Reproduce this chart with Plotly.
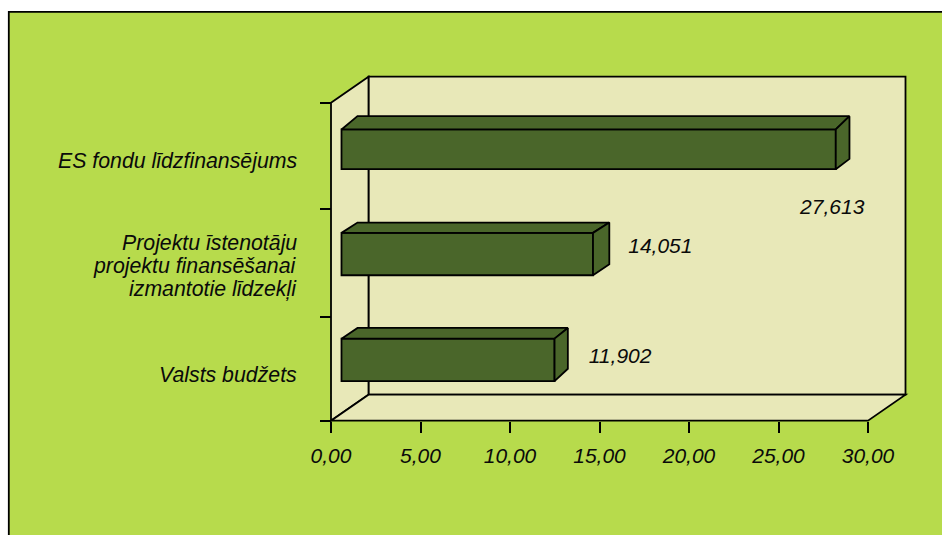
import plotly.graph_objects as go

# ---- data (bottom to top) ----
categories = ["Valsts budžets",
              "Projektu īstenotāju<br>projektu finansēšanai<br>izmantotie līdzekļi",
              "ES fondu līdzfinansējums"]
values = [11.902, 14.051, 27.613]
x_ticks = [0, 5, 10, 15, 20, 25, 30]
y_boundaries = [0, 0.975, 2, 3]

# ---- scale of the drawing (pixels) ----
W, H = 942, 535
X0, PX_X = 331.0, 17.9      # pixel of value 0, pixels per unit
Y0, PX_Y = 420.7, 106.0     # pixel of boundary 0, pixels per category
ux = lambda p: p / PX_X
uy = lambda p: p / PX_Y
xr = [-X0 / PX_X, (W - X0) / PX_X]
yr = [(Y0 - H) / PX_Y, Y0 / PX_Y]

# ---- pseudo-3D style parameters ----
wall_dx, wall_dy = ux(37.5), uy(26.0)
bar_shift = ux(10.5)
bar_centers = [0.574, 1.572, 2.56]
bar_widths = [0.40, 0.40, 0.375]
left_dx = ux(16)
top_dy = [uy(10.7), uy(10.3), uy(13.3)]
bottom_dy = [uy(12.3), uy(11.0), uy(10.3)]
right_dx = [ux(13.3), ux(16.3), ux(13.7)]
label_x = [16.15, 18.4, 28.0]
label_y = [0.59, 1.63, 2.0]

GREEN, WALL, BAR, INK = "#B7DB4C", "#E8E8B8", "#4A662A", "#000000"
TEXT = "#0A0A0A"
FONT = "Liberation Sans"
LW = 1.8


def poly(points):
    return "M " + " L ".join(f"{x},{y}" for x, y in points) + " Z"


fig = go.Figure()

# background
shapes = [dict(type="rect", xref="paper", yref="paper", x0=8.8 / W, x1=1.02,
               y0=-0.02, y1=1 - 11.8 / H, fillcolor=GREEN,
               line=dict(color=INK, width=1.8), layer="below")]

# walls of the 3D box
xa, xb, ya, yb = x_ticks[0], x_ticks[-1], y_boundaries[0], y_boundaries[-1]
for pts in (
    [(xa + wall_dx, ya + wall_dy), (xb + wall_dx, ya + wall_dy), (xb + wall_dx, yb + wall_dy), (xa + wall_dx, yb + wall_dy)],
    [(xa, ya), (xa + wall_dx, ya + wall_dy), (xa + wall_dx, yb + wall_dy), (xa, yb)],
    [(xa, ya), (xb, ya), (xb + wall_dx, ya + wall_dy), (xa + wall_dx, ya + wall_dy)],
):
    shapes.append(dict(type="path", xref="x", yref="y", path=poly(pts), fillcolor=WALL,
                       line=dict(color=INK, width=LW), layer="below"))

# front faces of the bars
fig.add_trace(go.Bar(orientation="h", y=bar_centers, x=values, base=[bar_shift] * 3, width=bar_widths,
                     marker=dict(color=BAR, line=dict(color=INK, width=LW)), showlegend=False, hoverinfo="skip"))

# top and side faces of the bars
for i, v in enumerate(values):
    x0, x1 = bar_shift, bar_shift + v
    yt, yb_ = bar_centers[i] + bar_widths[i] / 2, bar_centers[i] - bar_widths[i] / 2
    top = [(x0, yt), (x0 + left_dx, yt + top_dy[i]), (x1 + right_dx[i], yt + top_dy[i]), (x1, yt), (x0, yt)]
    side = [(x1, yt), (x1 + right_dx[i], yt + top_dy[i]), (x1 + right_dx[i], yb_ + bottom_dy[i]), (x1, yb_), (x1, yt)]
    for pts in (top, side):
        fig.add_trace(go.Scatter(x=[p[0] for p in pts], y=[p[1] for p in pts], mode="lines", fill="toself",
                                 fillcolor=BAR, line=dict(color=INK, width=LW), showlegend=False, hoverinfo="skip"))

# value labels
fig.add_trace(go.Scatter(x=label_x, y=label_y, mode="text", text=[f"{v:.3f}".replace(".", ",") for v in values],
                         textposition="middle center", textfont=dict(family=FONT, size=21, color=TEXT, style="italic"),
                         showlegend=False, hoverinfo="skip"))

# category labels (line pitch narrower than the default)
annotations = []
label_centers = [uy(Y0 - 375), uy(Y0 - 266), uy(Y0 - 161)]
for c, yc in zip(categories, label_centers):
    lines = c.split("<br>")
    for j, line in enumerate(lines):
        annotations.append(dict(x=ux(298.5 - X0), y=yc + uy(23) * ((len(lines) - 1) / 2 - j), xref="x", yref="y",
                                text=line, showarrow=False, xanchor="right", yanchor="middle",
                                font=dict(family=FONT, size=21.3, color=TEXT, style="italic")))

fig.update_layout(
    width=W, height=H, autosize=False, margin=dict(l=0, r=0, t=0, b=0, pad=0),
    paper_bgcolor="#FFFFFF", plot_bgcolor="rgba(0,0,0,0)", separators=",.",
    shapes=shapes, annotations=annotations, showlegend=False,
    xaxis=dict(range=xr, anchor="free", position=(H - Y0) / H, side="bottom", tickmode="array", tickvals=x_ticks,
               tickformat=".2f", ticks="outside", ticklen=11, tickwidth=LW, tickcolor=INK,
               showgrid=False, zeroline=False, showline=False,
               tickfont=dict(family=FONT, size=21, color=TEXT, style="italic"), ticklabelstandoff=5),
    yaxis=dict(range=yr, anchor="free", position=X0 / W, side="left", tickmode="array", tickvals=y_boundaries,
               ticks="outside", ticklen=11, tickwidth=LW, tickcolor=INK, showticklabels=False,
               showgrid=False, zeroline=False, showline=False),
)

fig.write_html("out.html", config=dict(displayModeBar=False, responsive=False),
               post_script="document.body.style.margin='0';document.body.style.overflow='hidden';")
